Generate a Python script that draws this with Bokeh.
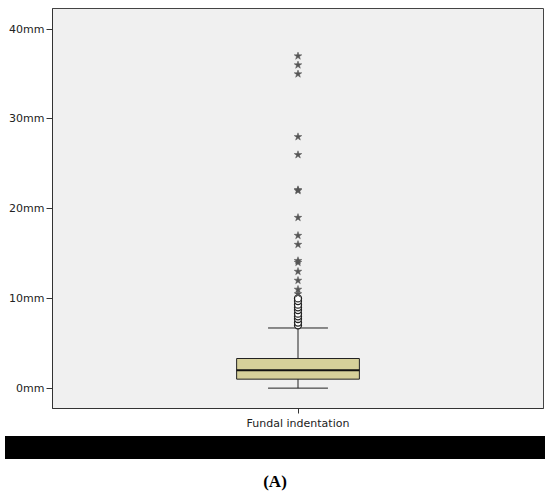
from bokeh.plotting import figure
from bokeh.layouts import column
from bokeh.models import Range1d, FixedTicker, Div
from bokeh.embed import file_html
from bokeh.resources import INLINE

# ---- data ----
categories = ["Fundal indentation"]
q1 = [1.0]
median = [2.0]
q3 = [3.3]
whisker_low = [0.0]
whisker_high = [6.7]
outliers_mild = [7.0, 7.3, 7.7, 8.0, 8.3, 8.7, 9.0, 9.3, 9.7, 10.0]
outliers_extreme = [10.5, 11.0, 12.0, 13.0, 14.0, 14.2, 16.0, 17.0, 19.0, 22.0, 22.1, 26.0, 28.0, 35.0, 36.0, 37.0]
y_ticks = [0, 10, 20, 30, 40]
y_tick_labels = ["0mm", "10mm", "20mm", "30mm", "40mm"]
panel_label = "(A)"

FONT = "DejaVu Sans"

pos = [i + 0.5 for i in range(len(categories))]
box_w = 0.25
cap_w = 0.122

p = figure(width=550, height=434, output_backend="svg", toolbar_location=None,
           x_range=Range1d(0, len(categories)), y_range=Range1d(-2.27, 42.3),
           min_border_left=52, min_border_right=7, min_border_top=8, min_border_bottom=26)
p.background_fill_color = "#f0f0f0"
p.border_fill_color = "white"
p.outline_line_color = "#444444"
p.xgrid.visible = False
p.ygrid.visible = False

# box
p.quad(left=[x - box_w / 2 for x in pos], right=[x + box_w / 2 for x in pos],
       bottom=q1, top=q3, fill_color="#d6d09a", line_color="#222222", line_width=1)
# median
p.segment(x0=[x - box_w / 2 for x in pos], x1=[x + box_w / 2 for x in pos],
          y0=median, y1=median, line_color="#111111", line_width=2)
# whiskers
p.segment(x0=pos, x1=pos, y0=q3, y1=whisker_high, line_color="#222222", line_width=1)
p.segment(x0=pos, x1=pos, y0=whisker_low, y1=q1, line_color="#222222", line_width=1)
p.segment(x0=[x - cap_w / 2 for x in pos], x1=[x + cap_w / 2 for x in pos],
          y0=whisker_high, y1=whisker_high, line_color="#222222", line_width=1)
p.segment(x0=[x - cap_w / 2 for x in pos], x1=[x + cap_w / 2 for x in pos],
          y0=whisker_low, y1=whisker_low, line_color="#222222", line_width=1)
# outliers
p.scatter(x=[pos[0]] * len(outliers_mild), y=outliers_mild, marker="circle", size=7,
          fill_color="white", line_color="#222222", line_width=1.3)
p.scatter(x=[pos[0]] * len(outliers_extreme), y=outliers_extreme, marker="star", size=8,
          fill_color="#555555", line_color="#555555", line_width=0.5)

# axes
for ax in (p.xaxis[0], p.yaxis[0]):
    ax.axis_line_color = "#333333"
    ax.major_tick_line_color = "#333333"
    ax.major_tick_in = 0
    ax.major_tick_out = 5
    ax.minor_tick_line_color = None
    ax.major_label_text_font = FONT
    ax.major_label_text_font_size = "11px"
    ax.major_label_text_color = "#222222"
p.yaxis.ticker = FixedTicker(ticks=y_ticks)
p.yaxis.major_label_overrides = {t: l for t, l in zip(y_ticks, y_tick_labels)}
p.yaxis.major_tick_out = 6
p.yaxis.major_label_standoff = 2
p.xaxis.ticker = FixedTicker(ticks=pos)
p.xaxis.major_label_overrides = {x: c for x, c in zip(pos, categories)}
p.xaxis.major_label_standoff = 3

# black strip and panel label
bar = Div(text="", width=540, height=23, margin=(2, 0, 0, 5),
          styles={"background-color": "black"})
lab = Div(text="<b>" + panel_label + "</b>", width=550, height=28, margin=(9, 0, 0, 0),
          styles={"font-family": "Liberation Serif", "font-size": "17px",
                  "text-align": "center", "line-height": "28px", "color": "black",
                  "width": "550px"})

layout = column(p, bar, lab, spacing=0)
open("out.html", "w").write(file_html(layout, INLINE))
